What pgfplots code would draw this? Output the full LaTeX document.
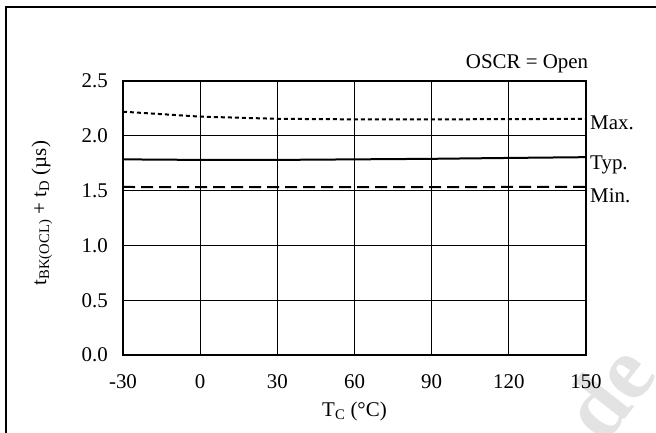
\documentclass[border=0pt]{standalone}
\usepackage{pgfplots}
\pgfplotsset{compat=1.18}
\usepackage{fontspec}
\setmainfont{Liberation Serif}
\begin{document}
\fontsize{21}{25}\selectfont
\begin{tikzpicture}[x=1bp,y=1bp]
\useasboundingbox (0,0) rectangle (656,432);
\begin{scope}
\clip (0,0) rectangle (656,432);
\node[rotate=52, text=gray!22, font=\fontsize{90}{96}\selectfont\bfseries, anchor=base west, inner sep=0pt] at (604,-14) {de};
\draw[line width=2.6bp] (6,-5) -- (6,425) -- (670,425);
\end{scope}
\begin{axis}[
  at={(123bp,77bp)}, anchor=south west,
  scale only axis, width=463bp, height=274bp,
  xmin=-30, xmax=150, ymin=0, ymax=2.5,
  xtick={-30,0,30,60,90,120,150},
  xticklabels={-30,0,30,60,90,120,150},
  ytick={0,0.5,1,1.5,2,2.5},
  yticklabels={0.0,0.5,1.0,1.5,2.0,2.5},
  grid=major, grid style={black, line width=1.1bp},
  axis line style={line width=1.3bp},
  tick style={draw=none},
  yticklabel style={inner sep=0pt, anchor=east, xshift=-15bp},
  xticklabel style={inner sep=0pt, anchor=north, yshift=-19bp},
  xlabel={T\textsubscript{C} (°C)},
  xlabel style={at={(axis description cs:0.5,-0.225)}, anchor=base, inner sep=0pt},
  ylabel={t\textsubscript{BK(OCL)} + t\textsubscript{D} (µs)},
  ylabel style={at={(axis description cs:-0.175,0.518)}, anchor=center, inner sep=0pt},
  clip=false,
]
\addplot[black, line width=2bp, dash pattern=on 4bp off 3bp] coordinates {
  (-30,2.22) (0,2.175) (30,2.155) (60,2.15) (90,2.15) (120,2.152) (150,2.155)
};
\addplot[black, line width=2bp] coordinates {
  (-30,1.785) (0,1.78) (30,1.78) (60,1.785) (90,1.79) (120,1.798) (150,1.805)
};
\addplot[black, line width=2bp, dash pattern=on 12bp off 6bp] coordinates {
  (-30,1.533) (0,1.532) (30,1.532) (60,1.532) (90,1.532) (120,1.533) (150,1.535)
};
\node[anchor=base east, inner sep=0pt] at (axis description cs:1.005,1.047) {OSCR = Open};
\node[anchor=base west, inner sep=0pt, xshift=4bp] at (axis cs:150,2.053) {Max.};
\node[anchor=base west, inner sep=0pt, xshift=4bp] at (axis cs:150,1.688) {Typ.};
\node[anchor=base west, inner sep=0pt, xshift=4bp] at (axis cs:150,1.396) {Min.};
\end{axis}
\end{tikzpicture}
\end{document}
